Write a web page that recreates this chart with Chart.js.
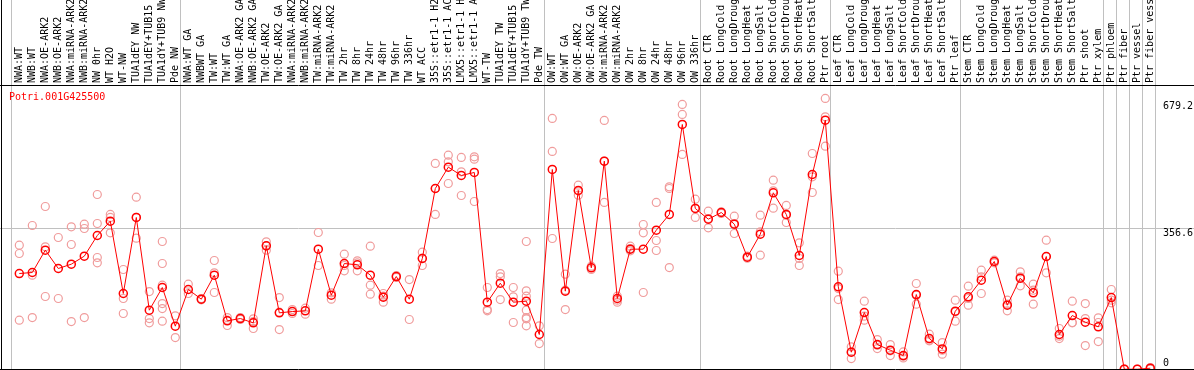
<!DOCTYPE html>
<html>
<head>
<meta charset="utf-8">
<script src="https://cdn.jsdelivr.net/npm/chart.js@4.4.1/dist/chart.umd.min.js"></script>
<style>
  html, body { margin: 0; padding: 0; background: #fff; }
  canvas { display: block; }
</style>
</head>
<body>
<canvas id="chart" width="1194" height="370"></canvas>
<script>
const geneName = "Potri.001G425500";

const categories = [
  "NWA:WT", "NWB:WT", "NWA:OE-ARK2", "NWB:OE-ARK2", "NWA:miRNA-ARK2", "NWB:miRNA-ARK2",
  "NW 0hr", "WT H2O", "WT-NW", "TUA1dEY NW", "TUA1dEY+TUB15 NW", "TUA1dY+TUB9 NW", "Pde NW",
  "NWA:WT GA", "NWBWT GA", "TW:WT", "TW:WT GA", "NWA:OE-ARK2 GA", "NWB:OE-ARK2 GA",
  "TW:OE-ARK2", "TW:OE-ARK2 GA", "NWA:miRNA-ARK2 GA", "NWB:miRNA-ARK2 GA", "TW:miRNA-ARK2",
  "TW:miRNA-ARK2 GA", "TW 2hr", "TW 8hr", "TW 24hr", "TW 48hr", "TW 96hr", "TW 336hr", "WT ACC",
  "35S::etr1-1 H2O", "35S::etr1-1 ACC", "LMX5::etr1-1 H2O", "LMX5::etr1-1 ACC", "WT-TW",
  "TUA1dEY TW", "TUA1dEY+TUB15 TW", "TUA1dY+TUB9 TW", "Pde TW",
  "OW:WT", "OW:WT GA", "OW:OE-ARK2", "OW:OE-ARK2 GA", "OW:miRNA-ARK2", "OW:miRNA-ARK2 GA",
  "OW 2hr", "OW 8hr", "OW 24hr", "OW 48hr", "OW 96hr", "OW 336hr",
  "Root CTR", "Root LongCold", "Root LongDrought", "Root LongHeat", "Root LongSalt",
  "Root ShortCold", "Root ShortDrought", "Root ShortHeat", "Root ShortSalt", "Ptr root",
  "Leaf CTR", "Leaf LongCold", "Leaf LongDrought", "Leaf LongHeat", "Leaf LongSalt",
  "Leaf ShortCold", "Leaf ShortDrought", "Leaf ShortHeat", "Leaf ShortSalt", "Ptr leaf",
  "Stem CTR", "Stem LongCold", "Stem LongDrought", "Stem LongHeat", "Stem LongSalt",
  "Stem ShortCold", "Stem ShortDrought", "Stem ShortHeat", "Stem ShortSalt", "Ptr shoot", "Ptr xylem",
  "Ptr phloem", "Ptr fiber", "Ptr vessel", "Ptr fiber vessel"
];

// index of first category of every block (last entry closes the final block)
const groupStarts = [0, 13, 41, 53, 63, 73, 84, 85, 86, 87, 88];

const means = [
  242.4, 245.0, 301.6, 255.1, 266.1, 286.4, 338.7, 375.1, 191.8, 384.4, 149.5, 207.0, 109.0,
  201.9, 177.4, 238.2, 122.5, 128.4, 117.4, 312.6, 142.8, 146.1, 147.8, 304.1, 187.5, 267.8,
  264.4, 238.2, 182.5, 234.8, 177.4, 280.5, 457.8, 511.9, 490.8, 498.4, 169.8, 217.9, 169.8,
  172.3, 87.9,
  506.0, 197.7, 452.8, 256.8, 527.1, 179.1, 304.1, 304.1, 352.3, 392.0, 620.0, 407.2,
  380.1, 397.0, 367.5, 283.8, 342.1, 446.9, 392.0, 288.1, 493.3, 631.0,
  208.6, 43.1, 143.6, 62.5, 48.1, 34.6, 189.2, 77.7, 51.5, 147.0,
  183.3, 225.5, 272.9, 162.2, 230.6, 193.4, 285.5, 87.9, 136.0, 119.1, 107.3,
  181.6, 0, 0, 2.5
];

const replicates = [
  [314.2, 293.1, 124.2], [364.1, 238.2, 130.9], [412.2, 310.0, 184.2], [333.7, 179.1],
  [360.7, 315.9, 120.8], [367.5, 356.5, 130.9], [442.6, 369.1, 283.0, 269.5],
  [392.0, 384.4, 345.5], [252.6, 179.1, 141.1], [435.9, 384.4, 332.0], [196.8, 128.4, 117.4],
  [323.5, 267.8, 212.9, 166.4, 153.7, 121.6], [135.2, 80.2],
  [215.4, 191.8], [179.1, 175.7], [275.4, 244.1, 194.3], [130.9, 124.2, 110.7], [130.9, 125.9],
  [127.6, 120.8, 103.1], [322.7, 312.6, 301.6], [181.6, 144.4, 100.5], [151.2, 141.1],
  [154.6, 139.4], [346.3, 262.7], [193.4, 177.4], [291.4, 262.7, 249.2], [274.5, 269.5, 249.2],
  [311.7, 212.9, 190.1], [191.8, 185.0, 169.8], [237.4, 232.3], [227.2, 125.9],
  [296.5, 281.3, 262.7], [521.2, 457.8, 392.0], [542.3, 525.4, 470.5], [536.4, 500.1, 440.1],
  [538.1, 532.2, 424.9], [207.0, 151.2, 147.8], [242.4, 234.0, 176.5], [207.0, 183.3, 118.3],
  [323.5, 198.5, 185.0, 149.5, 130.9, 127.6, 109.8], [109.8, 65.0],
  [635.2, 551.6, 331.1], [240.8, 200.2, 151.2], [466.3, 451.9, 441.0], [261.0, 252.6],
  [630.2, 527.1, 422.4], [185.0, 174.9, 169.8], [311.7, 305.8, 299.9], [366.6, 345.5, 194.3],
  [422.4, 326.1, 300.7], [462.1, 457.8, 257.6], [670.7, 645.4, 544.0], [430.8, 407.2, 384.4],
  [400.4, 381.8, 358.2], [398.7, 394.5], [387.7, 369.1, 343.8], [286.4, 281.3],
  [390.3, 348.0, 288.9], [479.0, 451.9, 408.0], [414.8, 390.3, 371.7], [320.2, 280.5, 262.7],
  [546.5, 487.4, 447.7], [685.9, 639.5, 565.1],
  [248.4, 204.4, 176.5], [56.6, 43.9, 27.0], [172.3, 134.3, 124.2], [75.2, 60.8, 52.4],
  [62.5, 46.5, 34.6], [43.9, 32.9, 28.7], [217.1, 187.5, 164.7], [88.7, 73.5, 71.8],
  [67.6, 48.1, 38.0], [174.9, 145.3, 121.6],
  [210.3, 179.1, 162.2], [250.9, 234.0, 191.8], [276.2, 269.5], [174.9, 164.7, 147.8],
  [246.7, 234.0, 211.2], [215.4, 200.2, 164.7], [326.9, 285.5, 244.1], [103.1, 83.6, 77.7],
  [172.3, 118.3, 117.4], [166.4, 128.4, 60.0], [130.1, 118.3, 70.1],
  [201.9, 174.9, 168.1], [0, 0], [0], [4.2, 0]
];

const gridValue = 356.6;
const yLabels = [679.2, 356.6, 0];

const meanPoints = means.map((v, i) => ({ x: i, y: v }));
const repPoints = [];
replicates.forEach((list, i) => list.forEach(v => repPoints.push({ x: i, y: v })));

const monoFont = "10px 'DejaVu Sans Mono', monospace";

// grey separators, frame lines, category names and value labels
const framePlugin = {
  id: 'frame',
  beforeDatasetsDraw(chart) {
    const { ctx, chartArea, scales } = chart;
    const x = scales.x, y = scales.y;
    ctx.save();
    ctx.strokeStyle = '#c0c0c0';
    ctx.lineWidth = 1;
    groupStarts.forEach(k => {
      const px = Math.round(x.getPixelForValue(k - 0.66)) + 0.5;
      ctx.beginPath();
      ctx.moveTo(px, 0);
      ctx.lineTo(px, chartArea.bottom);
      ctx.stroke();
    });
    const gy = Math.round(y.getPixelForValue(gridValue)) + 0.5;
    ctx.beginPath();
    ctx.moveTo(chartArea.left, gy);
    ctx.lineTo(chartArea.right, gy);
    ctx.stroke();
    ctx.restore();
  },
  afterDraw(chart) {
    const { ctx, chartArea, scales } = chart;
    const x = scales.x, y = scales.y;
    ctx.save();
    ctx.strokeStyle = '#000';
    ctx.lineWidth = 1;
    ctx.beginPath();
    ctx.moveTo(0, chartArea.top + 0.5);
    ctx.lineTo(chartArea.right, chartArea.top + 0.5);
    ctx.moveTo(0, 369.5);
    ctx.lineTo(chartArea.right, 369.5);
    ctx.moveTo(1.5, 0);
    ctx.lineTo(1.5, 370);
    ctx.stroke();

    ctx.font = monoFont;
    ctx.fillStyle = '#000';

    // rotated category names, reading upwards from the plot frame
    ctx.textAlign = 'left';
    ctx.textBaseline = 'middle';
    categories.forEach((name, i) => {
      ctx.save();
      ctx.translate(Math.round(x.getPixelForValue(i)) + 0.5, chartArea.top - 2);
      ctx.rotate(-Math.PI / 2);
      ctx.fillText(name, 0, 0);
      ctx.restore();
    });

    yLabels.forEach(v => {
      const py = y.getPixelForValue(v);
      if (v === 0) {
        ctx.textBaseline = 'bottom';
        ctx.fillText(String(v), 1163, py - 1);
      } else {
        ctx.textBaseline = 'top';
        ctx.fillText(String(v), 1163, py);
      }
    });

    ctx.fillStyle = '#ff0000';
    ctx.textBaseline = 'top';
    ctx.fillText(geneName, 9, chartArea.top + 7);
    ctx.restore();
  }
};

const ctx = document.getElementById('chart').getContext('2d');

const chart = new Chart(ctx, {
  type: 'line',
  data: {
    datasets: [
      {
        label: geneName,
        data: meanPoints,
        borderColor: '#ff0000',
        borderWidth: 1,
        tension: 0,
        pointRadius: 4,
        pointBorderWidth: 1.5,
        pointBorderColor: '#ff0000',
        pointBackgroundColor: 'rgba(0,0,0,0)',
        clip: false
      },
      {
        label: 'replicates',
        data: repPoints,
        showLine: false,
        pointRadius: 4,
        pointBorderWidth: 1.2,
        pointBorderColor: '#f09c9c',
        pointBackgroundColor: 'rgba(0,0,0,0)',
        clip: false
      }
    ]
  },
  options: {
    responsive: false,
    animation: false,
    devicePixelRatio: 1,
    layout: { padding: 0, autoPadding: false },
    plugins: {
      legend: { display: false },
      tooltip: { enabled: false }
    },
    scales: {
      x: {
        type: 'linear',
        position: 'top',
        bounds: 'data',
        min: -1.485,
        max: 90.362,
        afterBuildTicks: (scale) => {
          scale.ticks = [];
        },
        afterFit: (scale) => {
          scale.height = 85;
        },
        grid: { display: false, drawTicks: false },
        border: { display: false },
        ticks: { display: false }
      },
      y: {
        display: false,
        bounds: 'data',
        min: -2,
        max: 720
      }
    }
  },
  plugins: [framePlugin]
});
</script>
</body>
</html>
